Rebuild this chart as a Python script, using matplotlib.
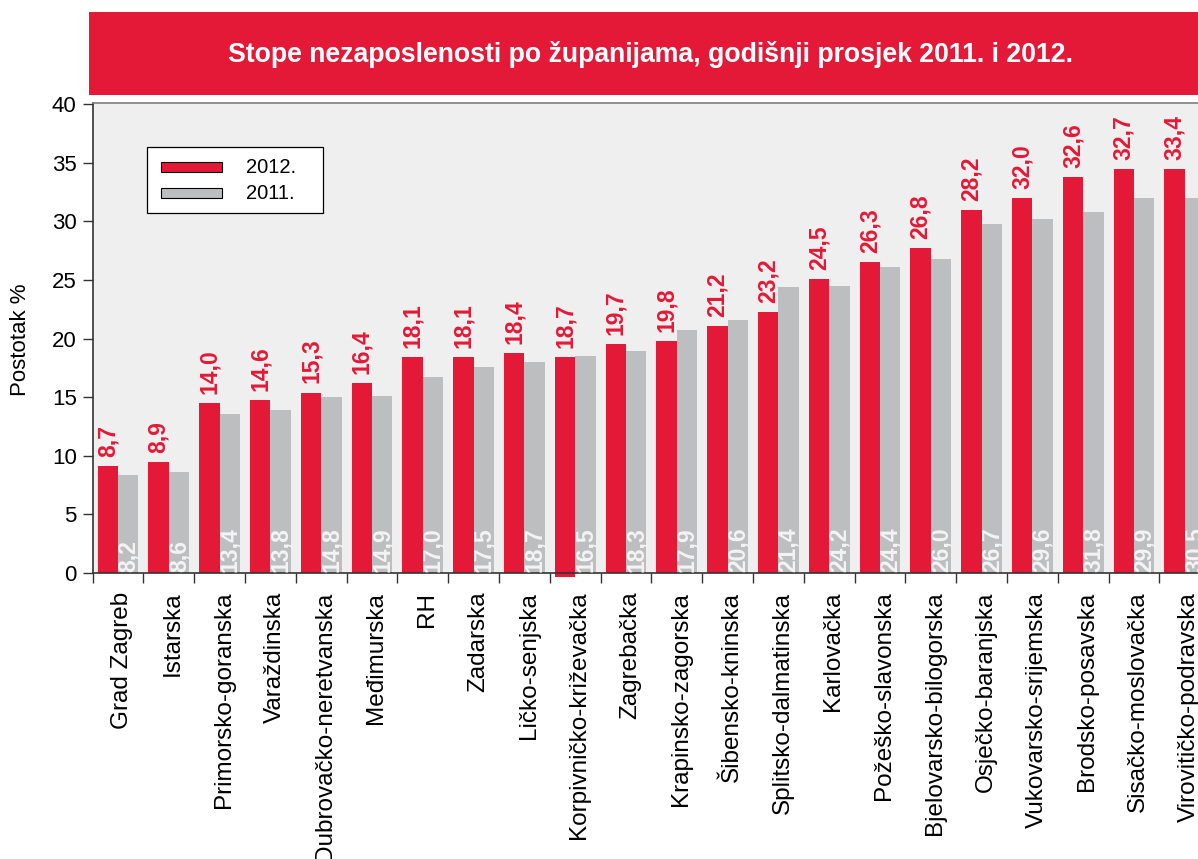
import matplotlib
matplotlib.use("Agg")
import matplotlib.pyplot as plt
from matplotlib.patches import Rectangle
import matplotlib.transforms as mtransforms
import numpy as np

plt.rcParams['font.family'] = ['Liberation Sans', 'DejaVu Sans']

categories = ["Grad Zagreb", "Istarska", "Primorsko-goranska", "Varaždinska",
              "Dubrovačko-neretvanska", "Međimurska", "RH", "Zadarska",
              "Ličko-senjska", "Korpivničko-križevačka", "Zagrebačka",
              "Krapinsko-zagorska", "Šibensko-kninska", "Splitsko-dalmatinska",
              "Karlovačka", "Požeško-slavonska", "Bjelovarsko-bilogorska",
              "Osječko-baranjska", "Vukovarsko-srijemska", "Brodsko-posavska",
              "Sisačko-moslovačka", "Virovitičko-podravska"]

# bar heights as drawn in the picture
bars_2012 = [9.1, 9.5, 14.5, 14.8, 15.4, 16.2, 18.4, 18.4, 18.8, 18.4, 19.5,
             19.8, 21.1, 22.3, 25.1, 26.5, 27.7, 31.0, 32.0, 33.8, 34.5, 34.5]
base_2012 = [0, 0, 0, 0, 0, 0, 0, 0, 0, -0.3, 0,
             0, 0, 0, 0, 0, 0, 0, 0, 0, 0, 0]
bars_2011 = [8.4, 8.6, 13.6, 13.9, 15.0, 15.1, 16.7, 17.6, 18.0, 18.55, 18.9,
             20.7, 21.6, 24.4, 24.5, 26.1, 26.8, 29.8, 30.2, 30.8, 32.0, 32.0]

# value labels as printed
labels_2012 = ["8,7", "8,9", "14,0", "14,6", "15,3", "16,4", "18,1", "18,1",
               "18,4", "18,7", "19,7", "19,8", "21,2", "23,2", "24,5", "26,3",
               "26,8", "28,2", "32,0", "32,6", "32,7", "33,4"]
labels_2011 = ["8,2", "8,6", "13,4", "13,8", "14,8", "14,9", "17,0", "17,5",
               "18,7", "16,5", "18,3", "17,9", "20,6", "21,4", "24,2", "24,4",
               "26,0", "26,7", "29,6", "31,8", "29,9", "30,5"]

yticks = [0, 5, 10, 15, 20, 25, 30, 35, 40]
title = "Stope nezaposlenosti po županijama, godišnji prosjek 2011. i 2012."
series_names = ["2012.", "2011."]

RED = "#e31937"
GRAY = "#bdbec0"
BG = "#efefef"

W, H = 1198, 859
fig = plt.figure(figsize=(W / 100, H / 100), dpi=100)


def fx(px):
    return px / W


def fy(py):
    return 1 - py / H


# title banner
fig.patches.append(Rectangle((fx(89), fy(95)), 1.2, (95 - 12) / H,
                             transform=fig.transFigure, facecolor=RED,
                             edgecolor='none', zorder=0))
fig.text(fx(650), fy(55), title, color='white', fontsize=19.2,
         fontweight='bold', ha='center', va='center')

ax_left = fx(92.6)
ax_bottom = fy(573)
ax_top = fy(103)
ax_width = 22 * 50.8 / W
ax = fig.add_axes([ax_left, ax_bottom, ax_width, ax_top - ax_bottom])
ax.set_facecolor(BG)

n = len(categories)
x = np.arange(n)
w = 0.4
heights_2012 = [b - base for b, base in zip(bars_2012, base_2012)]
ax.bar(x - w / 2, heights_2012, w, bottom=base_2012, color=RED, zorder=2,
       clip_on=False)
ax.bar(x + w / 2, bars_2011, w, color=GRAY, zorder=1)

for i in range(n):
    ax.annotate(labels_2012[i], (x[i] - w / 2, bars_2012[i]),
                xytext=(0, 6.5), textcoords='offset points', rotation=90,
                ha='center', va='bottom', color=RED, fontsize=16.5,
                fontweight='bold', zorder=3)
    ax.annotate(labels_2011[i], (x[i] + w / 2, 0),
                xytext=(0, 0.5), textcoords='offset points', rotation=90,
                ha='center', va='bottom', color='#f4f4f4', fontsize=16.5,
                fontweight='bold', zorder=3)

ax.set_xlim(-0.5, n - 0.5)
ax.set_ylim(0, 40.1)
ax.set_yticks(yticks)
ax.set_yticklabels([str(v) for v in yticks], fontsize=16)
ax.tick_params(axis='y', direction='out', length=7.5, width=1, pad=4,
               color='#333333')
ax.set_xticks(x)
ax.set_xticklabels(categories, rotation=90, fontsize=17.5, ha='center',
                   va='top')
ax.tick_params(axis='x', which='major', length=0, pad=13.5)
shift = mtransforms.ScaledTranslation(3 / 72, 0, fig.dpi_scale_trans)
for lab in ax.get_xticklabels():
    lab.set_transform(lab.get_transform() + shift)
ax.set_xticks(np.arange(n + 1) - 0.5, minor=True)
ax.tick_params(axis='x', which='minor', direction='out', length=7.5, width=1,
               color='#333333')

ax.spines['top'].set_color('#7f7f7f')
ax.spines['left'].set_color('#333333')
ax.spines['bottom'].set_color('#333333')
ax.spines['right'].set_visible(False)
for s in ax.spines.values():
    s.set_linewidth(1.2)

fig.text(fx(21), fy(340), "Postotak %", rotation=90, fontsize=16,
         ha='center', va='center')

# legend box drawn in figure pixel coordinates
fig.patches.append(Rectangle((fx(147.3), fy(213.3)), (323.3 - 147.3) / W,
                             (213.3 - 147.3) / H, transform=fig.transFigure,
                             facecolor='white', edgecolor='black',
                             linewidth=0.9, zorder=5))
for name, col, yc in zip(series_names, [RED, GRAY], [167.3, 193.3]):
    fig.patches.append(Rectangle((fx(161), fy(yc + 5)), (221.7 - 161) / W,
                                 10 / H, transform=fig.transFigure,
                                 facecolor=col, edgecolor='black',
                                 linewidth=0.8, zorder=6))
    fig.text(fx(246), fy(yc), name, fontsize=14.5, ha='left',
             va='center', zorder=6)

fig.savefig("out.png", dpi=100)
